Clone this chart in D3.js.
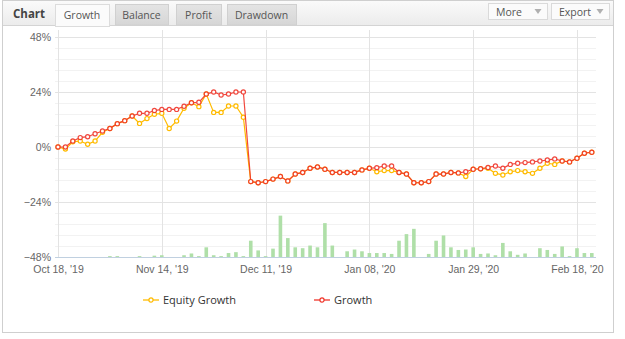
<!DOCTYPE html>
<html lang="en">
<meta charset="utf-8"/>
<head>
<style>
	body { margin: 0; background: #fff; }
	svg { display: block; font-family: "Open Sans", sans-serif; }
	.tick text { fill: #666; font-size: 10.5px; }
</style>
<script src="https://d3js.org/d3.v7.min.js"></script>
</head>
<body>
<svg id="chart" width="625" height="339"></svg>

<script>
// trading days, one point each
let growth = [0, 0, 2.6, 4.1, 4.5, 5.8, 7.0, 8.1, 10.2, 11.5,
	13.5, 14.7, 14.7, 15.9, 16.4, 16.4, 16.4, 17.8, 19.3, 19.5,
	23.1, 24.0, 22.7, 23.1, 24.0, 24.0, -15.1, -15.6, -15.1, -14.0,
	-12.9, -14.8, -11.8, -11.1, -9.3, -8.7, -9.7, -11.1, -11.1, -11.1,
	-11.1, -10.0, -9.3, -9.0, -8.3, -8.3, -11.1, -11.8, -15.6, -15.6,
	-15.1, -11.8, -11.8, -11.1, -11.3, -10.8, -9.7, -9.5, -8.9, -8.3,
	-9.3, -7.6, -7.1, -6.8, -6.5, -6.1, -5.7, -5.2, -6.1, -6.5,
	-4.9, -2.7, -2.3]
let equity = [0, -0.9, 2.3, 2.6, 1.2, 2.6, 6.4, 8.1, 10.2, 11.5,
	13.5, 10.3, 12.4, 14.3, 14.7, 8.1, 11.3, 16.9, 19.3, 17.6,
	23.1, 15.1, 15.1, 17.9, 17.9, 13.0, -15.1, -15.6, -15.1, -14.0,
	-12.9, -14.8, -11.8, -11.1, -9.3, -8.7, -9.7, -11.1, -11.1, -11.1,
	-11.1, -10.0, -9.3, -10.8, -10.3, -10.3, -11.1, -11.8, -15.6, -15.6,
	-15.1, -11.8, -11.8, -11.1, -11.3, -12.9, -9.7, -9.5, -9.3, -11.5,
	-12.2, -10.8, -10.3, -10.8, -11.5, -9.3, -7.1, -7.6, -6.1, -6.5,
	-4.9, -2.7, -2.3]
// small green bars under the lines
let volume = [0, 0, 0, 0, 0, 0, 0, 0.2, 0.2, 0,
	0, 0.2, 0, 0.3, 0.4, 0, 0, 0.4, 0.8, 0.2,
	2.2, 0.4, 0.2, 0.9, 1.1, 0.2, 3.7, 1.5, 0.2, 1.9,
	9.4, 4.3, 2.2, 2.0, 2.6, 2.2, 7.7, 2.6, 0, 1.3,
	1.7, 1.3, 0.9, 0.9, 0.9, 0.7, 3.7, 5.2, 6.4, 0,
	0.7, 3.7, 4.9, 2.2, 1.6, 1.7, 2.2, 0.7, 0.8, 0.4,
	3.2, 1.3, 0.5, 0.8, 0, 2.0, 1.6, 0.7, 2.4, 0.2,
	2.0, 0.9, 0.9]
let tickIdx = [0, 14, 28, 42, 56, 70]
let tickLabels = ["Oct 18, '19", "Nov 14, '19", "Dec 11, '19", "Jan 08, '20", "Jan 29, '20", "Feb 18, '20"]
let yTicks = [-48, -24, 0, 24, 48]
let tabs = ["Growth", "Balance", "Profit", "Drawdown"]
let seriesNames = ["Equity Growth", "Growth"]

let equityColor = "#ffbb00"
let growthColor = "#f0352a"

let svg = d3.select("#chart")
let plotL = 55, plotR = 596, plotT = 30, plotB = 257

let defs = svg.append("defs")
let g1 = defs.append("linearGradient").attr("id", "hdr").attr("x1", 0).attr("y1", 0).attr("x2", 0).attr("y2", 1)
g1.append("stop").attr("offset", 0).attr("stop-color", "#fafafa")
g1.append("stop").attr("offset", 1).attr("stop-color", "#ececec")
let g2 = defs.append("linearGradient").attr("id", "tab").attr("x1", 0).attr("y1", 0).attr("x2", 0).attr("y2", 1)
g2.append("stop").attr("offset", 0).attr("stop-color", "#e4e4e4")
g2.append("stop").attr("offset", 1).attr("stop-color", "#d6d6d6")

// panel + header
svg.append("rect").attr("x", 2.5).attr("y", 0.5).attr("width", 611).attr("height", 332)
	.attr("fill", "#fff").attr("stroke", "#cfcfcf")
svg.append("rect").attr("x", 3).attr("y", 1).attr("width", 610).attr("height", 24).attr("fill", "url(#hdr)")
svg.append("line").attr("x1", 3).attr("x2", 613).attr("y1", 25.5).attr("y2", 25.5).attr("stroke", "#d4d4d4")

svg.append("text").attr("x", 13).attr("y", 18).text("Chart")
	.attr("font-size", 11.5).attr("font-weight", "bold").attr("fill", "#444")

let tabX = [55, 115, 176, 227], tabW = [54, 53, 45, 69]
tabs.forEach((t, i) => {
	svg.append("rect").attr("x", tabX[i] + 0.5).attr("y", 4.5).attr("width", tabW[i]).attr("height", i == 0 ? 22 : 20.5)
		.attr("fill", i == 0 ? "#fbfbfb" : "url(#tab)").attr("stroke", i == 0 ? "#dcdcdc" : "#d0d0d0")
	svg.append("text").attr("x", tabX[i] + tabW[i] / 2).attr("y", 19).attr("text-anchor", "middle")
		.attr("font-size", 10.5).attr("fill", "#555").text(t)
})
svg.append("line").attr("x1", 56).attr("x2", 109).attr("y1", 25.5).attr("y2", 25.5).attr("stroke", "#fbfbfb")

let btns = [{ t: "More", x: 488, w: 59 }, { t: "Export", x: 551, w: 58 }]
btns.forEach(b => {
	svg.append("rect").attr("x", b.x + 0.5).attr("y", 3.5).attr("width", b.w).attr("height", 16)
		.attr("fill", "#fbfbfb").attr("stroke", "#dadada")
	svg.append("text").attr("x", b.x + 8).attr("y", 15.5).attr("font-size", 10.5).attr("fill", "#555").text(b.t)
	let cx = b.x + b.w - 9
	svg.append("path").attr("d", `M${cx - 3.5},9 L${cx + 3.5},9 L${cx},14 Z`).attr("fill", "#b0b0b0")
})

// scales
let x = d3.scaleLinear().domain([0, 72]).range([58, 591.8])
let y = d3.scaleLinear().domain([-48, 48]).range([257, 37])
let yv = d3.scaleLinear().domain([0, 50]).range([257, 37])

// minor grid
let minor = d3.range(0, 21).map(i => -48 + i * 4.8)
svg.append("g").selectAll("line").data(minor).join("line")
	.attr("x1", plotL).attr("x2", plotR)
	.attr("y1", d => Math.round(y(d)) + 0.5).attr("y2", d => Math.round(y(d)) + 0.5)
	.attr("stroke", "#f2f2f2")

// major grid
svg.append("g").selectAll("line").data(yTicks).join("line")
	.attr("x1", plotL).attr("x2", plotR)
	.attr("y1", d => Math.round(y(d)) + 0.5).attr("y2", d => Math.round(y(d)) + 0.5)
	.attr("stroke", "#e3e3e3")
svg.append("g").selectAll("line").data(tickIdx).join("line")
	.attr("x1", d => Math.round(x(d)) + 0.5).attr("x2", d => Math.round(x(d)) + 0.5)
	.attr("y1", plotT).attr("y2", plotB)
	.attr("stroke", "#e3e3e3")

// bars
svg.append("g").selectAll("rect").data(volume).join("rect")
	.attr("x", (d, i) => x(i) - 1.8)
	.attr("width", 3.6)
	.attr("y", d => yv(d))
	.attr("height", d => plotB - yv(d))
	.attr("fill", "#afdfa8")

// axis line
svg.append("line").attr("x1", plotL).attr("x2", plotR).attr("y1", plotB + 0.5).attr("y2", plotB + 0.5)
	.attr("stroke", "#c0d0e0")

// axes
let yAxis = svg.append("g").attr("transform", "translate(" + (plotL - 4) + ",0)")
	.call(d3.axisLeft(y).tickValues(yTicks).tickSize(0).tickPadding(0)
		.tickFormat(d => (d < 0 ? "\u2212" : "") + Math.abs(d) + "%"))
yAxis.select(".domain").remove()

let xAxis = svg.append("g").attr("transform", "translate(0," + plotB + ")")
	.call(d3.axisBottom(x).tickValues(tickIdx).tickSize(0).tickPadding(9)
		.tickFormat((d, i) => tickLabels[i]))
xAxis.select(".domain").remove()

// series
let line = d3.line().x((d, i) => x(i)).y(d => y(d))
function drawSeries(data, color, op) {
	let g = svg.append("g").attr("opacity", op)
	g.append("path").datum(data).attr("d", line)
		.attr("fill", "none").attr("stroke", color).attr("stroke-width", 1.2)
	g.selectAll("circle").data(data).join("circle")
		.attr("cx", (d, i) => x(i)).attr("cy", d => y(d)).attr("r", 2.1)
		.attr("fill", "#fff").attr("stroke", color).attr("stroke-width", 1.2)
}
drawSeries(equity, equityColor, 1)
drawSeries(growth, growthColor, 0.9)

// legend
let legX = [143, 314]
let legColors = [equityColor, growthColor]
seriesNames.forEach((n, i) => {
	let lg = svg.append("g").attr("transform", "translate(" + legX[i] + ",300)")
	lg.append("line").attr("x1", 0).attr("x2", 16).attr("y1", 0).attr("y2", 0)
		.attr("stroke", legColors[i]).attr("stroke-width", 1.3)
	lg.append("circle").attr("cx", 8).attr("cy", 0).attr("r", 2.1)
		.attr("fill", "#fff").attr("stroke", legColors[i]).attr("stroke-width", 1.2)
	lg.append("text").attr("x", 20).attr("y", 4).attr("font-size", 11).attr("fill", "#333").text(n)
})
</script>
</body>
</html>
